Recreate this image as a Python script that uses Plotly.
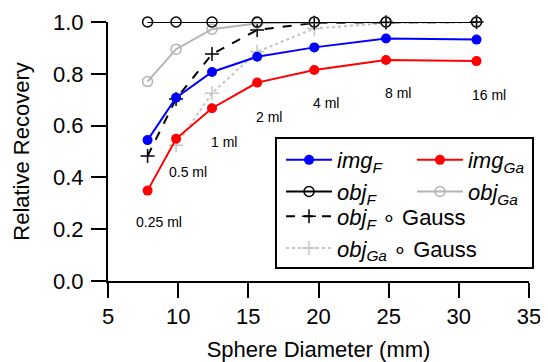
import plotly.graph_objects as go

# ---- data ----
diameter_mm = [7.82, 9.85, 12.41, 15.63, 19.70, 24.81, 31.26]
img_F = [0.544, 0.708, 0.807, 0.866, 0.902, 0.936, 0.932]
img_Ga = [0.349, 0.549, 0.667, 0.766, 0.815, 0.853, 0.849]
obj_F = [1.0, 1.0, 1.0, 1.0, 1.0, 1.0, 1.0]
obj_Ga = [0.770, 0.895, 0.972, 0.995, 0.999, 1.0, 1.0]
obj_F_gauss = [0.483, 0.703, 0.876, 0.969, 0.997, 0.999, 1.0]
obj_Ga_gauss = [None, 0.524, 0.725, 0.885, 0.975, 0.996, 0.999]
volume_labels = ["0.25 ml", "0.5 ml", "1 ml", "2 ml", "4 ml", "8 ml", "16 ml"]

x_ticks = [5, 10, 15, 20, 25, 30, 35]
y_ticks = [0.0, 0.2, 0.4, 0.6, 0.8, 1.0]

# label placement (data coords)
label_x = [8.63, 10.70, 13.27, 16.48, 20.54, 25.67, 32.16]
label_y = [0.228, 0.421, 0.537, 0.633, 0.687, 0.726, 0.718]

FONT = "Liberation Sans, Arial, Helvetica, sans-serif"
BLUE = "#0000ff"
RED = "#ff0000"
GRAY = "#b4b4b4"
LGRAY = "#c4c4c4"

fig = go.Figure()

fig.add_trace(go.Scatter(
    x=diameter_mm, y=obj_Ga_gauss, mode="lines+markers",
    name="<i>obj</i><sub><i>Ga</i></sub> ∘ Gauss",
    line=dict(color=LGRAY, width=2, dash="dot"),
    marker=dict(symbol="cross-thin", size=10, line=dict(color=LGRAY, width=1.5)),
    legend="legend3", legendrank=2, cliponaxis=False, connectgaps=False))
fig.add_trace(go.Scatter(
    x=diameter_mm, y=obj_F_gauss, mode="lines+markers",
    name="<i>obj</i><sub><i>F</i></sub> ∘ Gauss",
    line=dict(color="black", width=2, dash="dash"),
    marker=dict(symbol="cross-thin", size=10, line=dict(color="black", width=1.5)),
    legend="legend3", legendrank=1, cliponaxis=False))
fig.add_trace(go.Scatter(
    x=diameter_mm, y=obj_Ga, mode="lines+markers",
    name="<i>obj</i><sub><i>Ga</i></sub>",
    line=dict(color=GRAY, width=2),
    marker=dict(symbol="circle-open", size=10, line=dict(color=GRAY, width=1.5)),
    legend="legend2", legendrank=2, cliponaxis=False))
fig.add_trace(go.Scatter(
    x=diameter_mm, y=obj_F, mode="lines+markers",
    name="<i>obj</i><sub><i>F</i></sub>",
    line=dict(color="black", width=2),
    marker=dict(symbol="circle-open", size=10, line=dict(color="black", width=1.5)),
    legend="legend", legendrank=2, cliponaxis=False))
fig.add_trace(go.Scatter(
    x=diameter_mm, y=img_Ga, mode="lines+markers",
    name="<i>img</i><sub><i>Ga</i></sub>",
    line=dict(color=RED, width=2),
    marker=dict(symbol="circle", size=10, color=RED),
    legend="legend2", legendrank=1, cliponaxis=False))
fig.add_trace(go.Scatter(
    x=diameter_mm, y=img_F, mode="lines+markers",
    name="<i>img</i><sub><i>F</i></sub>",
    line=dict(color=BLUE, width=2),
    marker=dict(symbol="circle", size=10, color=BLUE),
    legend="legend", legendrank=1, cliponaxis=False))

for txt, lx, ly in zip(volume_labels, label_x, label_y):
    fig.add_annotation(x=lx, y=ly, text=txt, showarrow=False,
                       font=dict(family=FONT, size=14, color="black"))

leg_common = dict(bgcolor="rgba(0,0,0,0)", borderwidth=0, orientation="v",
                  font=dict(family=FONT, size=22, color="black"),
                  itemwidth=46, xanchor="left", yanchor="top", traceorder="normal")

# page body adds an 8px offset, so the figure is 8px smaller and margins shifted
fig.update_layout(
    width=540, height=354,
    margin=dict(l=100, r=19, t=14, b=81, autoexpand=False),
    paper_bgcolor="white", plot_bgcolor="white",
    font=dict(family=FONT, size=22, color="black"),
    showlegend=True,
    legend=dict(x=0.411, y=0.548, **leg_common),
    legend2=dict(x=0.722, y=0.548, **leg_common),
    legend3=dict(x=0.411, y=0.330, **leg_common),
    xaxis=dict(range=[5, 35], tickvals=x_ticks, showline=True, linecolor="black",
               linewidth=2, ticks="outside", ticklen=15, tickwidth=2, tickcolor="black",
               showgrid=False, zeroline=False, automargin=False,
               tickfont=dict(family=FONT, size=22),
               title=dict(text="Sphere Diameter (mm)", font=dict(family=FONT, size=22),
                          standoff=15)),
    yaxis=dict(range=[0, 1], tickvals=y_ticks, tickformat=".1f", showline=True,
               linecolor="black", linewidth=2, ticks="outside", ticklen=15, tickwidth=2,
               tickcolor="black", showgrid=False, zeroline=False, automargin=False,
               ticklabelstandoff=3,
               tickfont=dict(family=FONT, size=22),
               title=dict(text="Relative Recovery", font=dict(family=FONT, size=22),
                          standoff=17)),
)

fig.add_shape(type="rect", xref="paper", yref="paper",
              x0=0.399, x1=1.0095, y0=0.050, y1=0.552,
              line=dict(color="black", width=2), fillcolor="rgba(0,0,0,0)", layer="above")

fig.write_html("out.html")
